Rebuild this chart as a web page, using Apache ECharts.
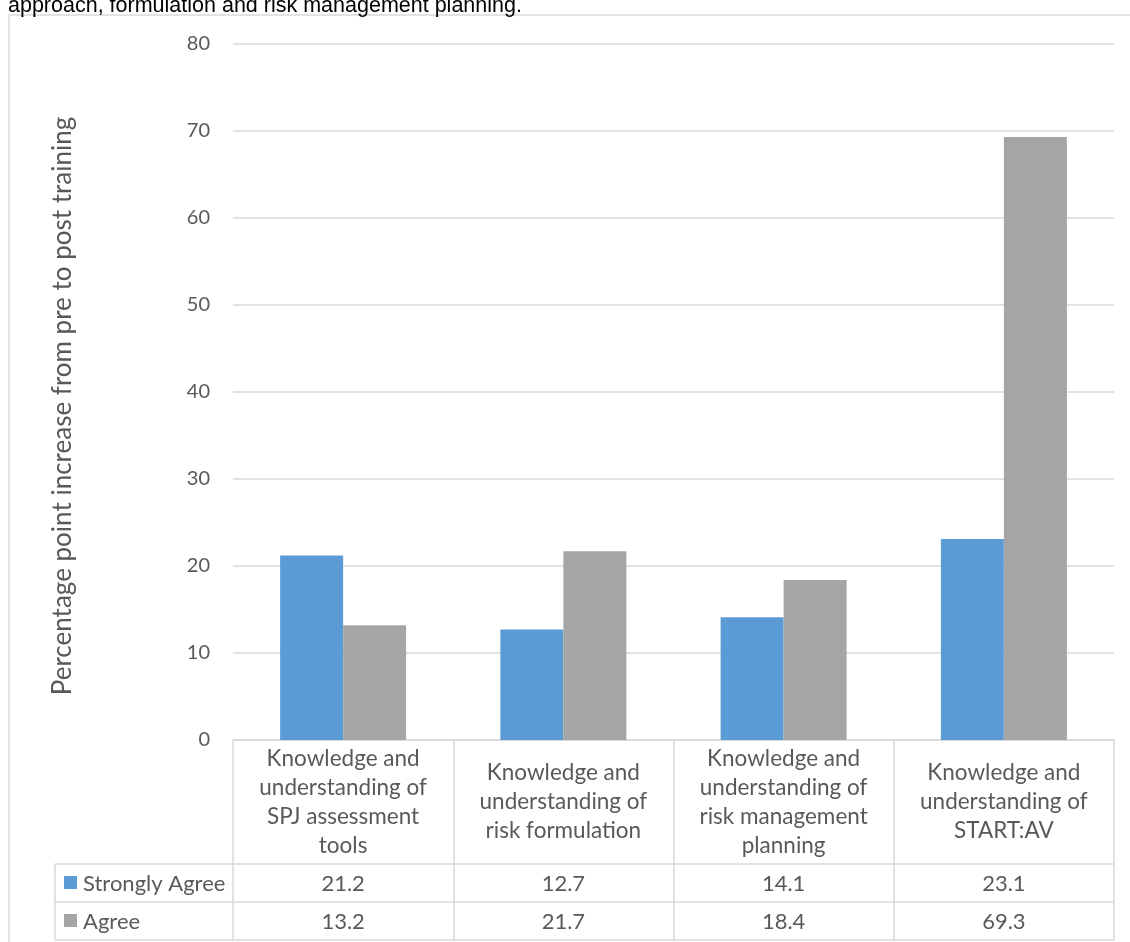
<!DOCTYPE html>
<html>
<head>
<meta charset="utf-8">
<script src="https://cdn.jsdelivr.net/npm/echarts@6/dist/echarts.min.js"></script>
<style>
  html, body { margin: 0; padding: 0; background: #fff; }
  #chart { width: 1130px; height: 942px; }
</style>
</head>
<body>
<div id="chart"></div>
<script>
// Category labels (as broken into lines in the header cells)
const categories = [
  'Knowledge and\nunderstanding of\nSPJ assessment\ntools',
  'Knowledge and\nunderstanding of\nrisk formulation',
  'Knowledge and\nunderstanding of\nrisk management\nplanning',
  'Knowledge and\nunderstanding of\nSTART:AV'
];
const seriesNames = ['Strongly Agree', 'Agree'];
const stronglyAgree = [21.2, 12.7, 14.1, 23.1];
const agree = [13.2, 21.7, 18.4, 69.3];
const yTicks = { min: 0, max: 80, interval: 10 };
const yTitle = 'Percentage point increase from pre to post training';
const caption = 'approach, formulation and risk management planning.';

const colors = ['#5B9BD5', '#A5A5A5'];
const gridColor = '#D9D9D9';
const textColor = '#595959';
const FONT = 'Lato';

const chart = echarts.init(document.getElementById('chart'), null, { renderer: 'canvas' });

const GRID = { left: 233, right: 16, top: 44, bottom: 202 };
const HEADER_H = 124, ROW_H = 38, TABLE_LEFT = 55;

chart.setOption({
  animation: false,
  backgroundColor: '#fff',
  grid: { left: GRID.left, right: GRID.right, top: GRID.top, bottom: GRID.bottom, containLabel: false },
  xAxis: {
    type: 'category',
    data: categories,
    axisLine: { show: true, lineStyle: { color: gridColor, width: 1.5 } },
    axisTick: { show: true, length: HEADER_H + 2 * ROW_H, lineStyle: { color: gridColor, width: 1.5 } },
    axisLabel: {
      interval: 0,
      color: textColor,
      fontFamily: FONT,
      fontSize: 22.5,
      lineHeight: 29,
      align: 'center',
      verticalAlign: 'middle',
      margin: HEADER_H / 2
    }
  },
  yAxis: {
    type: 'value',
    min: yTicks.min, max: yTicks.max, interval: yTicks.interval,
    axisLine: { show: false },
    axisTick: { show: false },
    axisLabel: { color: textColor, fontFamily: FONT, fontSize: 20, margin: 23 },
    splitLine: { lineStyle: { color: gridColor, width: 1.5 } }
  },
  series: [
    { name: seriesNames[0], type: 'bar', data: stronglyAgree, barWidth: 63, barGap: '0%',
      itemStyle: { color: colors[0] } },
    { name: seriesNames[1], type: 'bar', data: agree, barWidth: 63, barGap: '0%',
      itemStyle: { color: colors[1] } }
  ]
});

// Data table under the axis: legend keys, row lines and values
function buildTable() {
  const centers = categories.map((c) => chart.convertToPixel({ xAxisIndex: 0 }, c));
  const band = centers.length > 1 ? centers[1] - centers[0] : 220;
  const x1 = centers[centers.length - 1] + band / 2;
  const yAxisPx = chart.convertToPixel({ yAxisIndex: 0 }, 0);
  const rowTop = yAxisPx + HEADER_H;
  const els = [];
  const line = (xa, ya, xb, yb) => els.push({
    type: 'line', shape: { x1: xa, y1: ya, x2: xb, y2: yb },
    style: { stroke: gridColor, lineWidth: 1.5 }, silent: true
  });
  const rows = [stronglyAgree, agree];
  for (let r = 0; r <= rows.length; r++) line(TABLE_LEFT, rowTop + r * ROW_H, x1, rowTop + r * ROW_H);
  line(TABLE_LEFT, rowTop, TABLE_LEFT, rowTop + rows.length * ROW_H);
  rows.forEach((vals, r) => {
    const cy = rowTop + r * ROW_H + ROW_H / 2;
    els.push({ type: 'rect', shape: { x: 64, y: cy - 7, width: 13, height: 13 },
      style: { fill: colors[r] }, silent: true });
    els.push({ type: 'text', x: 83, y: cy + 1,
      style: { text: seriesNames[r], fill: textColor, font: '22px ' + FONT, verticalAlign: 'middle' }, silent: true });
    vals.forEach((v, i) => {
      els.push({ type: 'text', x: centers[i], y: cy + 1,
        style: { text: v.toFixed(1), fill: textColor, font: '22px ' + FONT,
          align: 'center', verticalAlign: 'middle' }, silent: true });
    });
  });
  // vertical axis title, centred alongside the plot
  const yMid = (chart.convertToPixel({ yAxisIndex: 0 }, yTicks.max) + yAxisPx) / 2;
  els.push({ type: 'text', x: 63, y: yMid + 14, rotation: Math.PI / 2,
    style: { text: yTitle, fill: textColor, font: '26px ' + FONT, align: 'center', verticalAlign: 'middle' }, silent: true });
  // outer frame of the chart area and the caption line above it
  els.push({ type: 'rect', shape: { x: 9, y: 15, width: 1140, height: 960 },
    style: { fill: null, stroke: gridColor, lineWidth: 1.5 }, silent: true, z: -1 });
  els.push({ type: 'text', x: 8, y: 17,
    style: { text: caption, fill: '#000',
      font: '21.5px "Liberation Sans", Arial, sans-serif', verticalAlign: 'bottom' }, silent: true });
  chart.setOption({ graphic: { elements: els } });
}
buildTable();
</script>
</body>
</html>
